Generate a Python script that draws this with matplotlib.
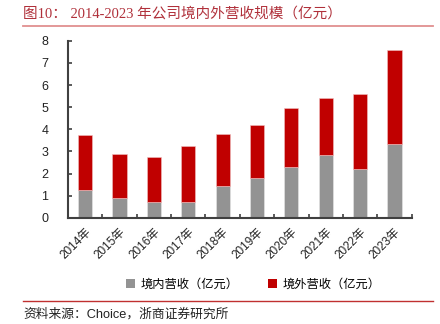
import matplotlib
matplotlib.use("Agg")
import matplotlib.pyplot as plt
import numpy as np
from matplotlib.lines import Line2D
from matplotlib.patches import Patch

years = ["2014年", "2015年", "2016年", "2017年", "2018年", "2019年", "2020年", "2021年", "2022年", "2023年"]
domestic = [1.27, 0.91, 0.71, 0.71, 1.43, 1.81, 2.31, 2.82, 2.22, 3.33]
total = [3.73, 2.90, 2.76, 3.24, 3.79, 4.18, 4.96, 5.43, 5.58, 7.60]
overseas = [t - d for t, d in zip(total, domestic)]
yticks = [0, 1, 2, 3, 4, 5, 6, 7, 8]

title = "图10： 2014-2023 年公司境内外营收规模（亿元）"
source = "资料来源：Choice，浙商证券研究所"
legend_labels = ["境内营收（亿元）", "境外营收（亿元）"]

plt.rcParams['font.family'] = ['Liberation Sans', 'Noto Sans CJK SC']

gray = "#939393"
red = "#C00000"
axis_col = "#404040"

fig = plt.figure(figsize=(4.4, 3.24), dpi=100)
ax = fig.add_axes([0.1545, 0.328, 0.7812, 0.546])

x = np.arange(len(years))
w = 0.41
ax.bar(x, domestic, w, color=gray, edgecolor="#e8e8e8", linewidth=0.4, zorder=2)
ax.bar(x, overseas, w, bottom=domestic, color=red, edgecolor="#f0c0c0", linewidth=0.4, zorder=2)

ax.set_xlim(-0.5, len(years) - 0.5)
ax.set_ylim(0, 8)
ax.set_yticks(yticks)
ax.set_yticklabels([str(v) for v in yticks], fontsize=9, color="#222222")
ax.tick_params(axis='y', direction='in', length=3, width=1.2, color=axis_col, pad=14)
for lbl in ax.get_yticklabels():
    lbl.set_horizontalalignment('right')

ax.set_xticks(x)
ax.set_xticklabels(years, rotation=45, ha='right', rotation_mode='anchor', fontsize=8.5, color="#222222")
ax.tick_params(axis='x', which='major', length=0, pad=6)
ax.set_xticks(np.arange(-0.5, len(years)), minor=True)
ax.tick_params(axis='x', which='minor', direction='in', length=3, width=1.2, color=axis_col)

for s in ['top', 'right']:
    ax.spines[s].set_visible(False)
for s in ['left', 'bottom']:
    ax.spines[s].set_color(axis_col)
    ax.spines[s].set_linewidth(1.5)

# Title
fig.text(23 / 440, 1 - 14 / 324, title, fontsize=10.5, color="#b0303a",
         family=['Liberation Serif', 'Noto Sans CJK SC'], va='center', ha='left')
fig.add_artist(Line2D([23 / 440, 433 / 440], [1 - 26 / 324, 1 - 26 / 324], color="#e09090", linewidth=1.3))

# Legend
handles = [Patch(facecolor=gray, edgecolor='none'), Patch(facecolor=red, edgecolor='none')]
fig.legend(handles, legend_labels, loc='center left', bbox_to_anchor=(126 / 440, 1 - 285 / 324), ncol=2,
           frameon=False, fontsize=8.8, handlelength=0.7, handleheight=0.7, handletextpad=0.5,
           columnspacing=2.4, borderaxespad=0, borderpad=0)

# Bottom line and source
fig.add_artist(Line2D([23 / 440, 433 / 440], [1 - 301 / 324, 1 - 301 / 324], color="#c03030", linewidth=1.0))
fig.text(23 / 440, 1 - 314 / 324, source, fontsize=9.2, color="#222222", va='center', ha='left')

fig.savefig("out.png", dpi=100)
